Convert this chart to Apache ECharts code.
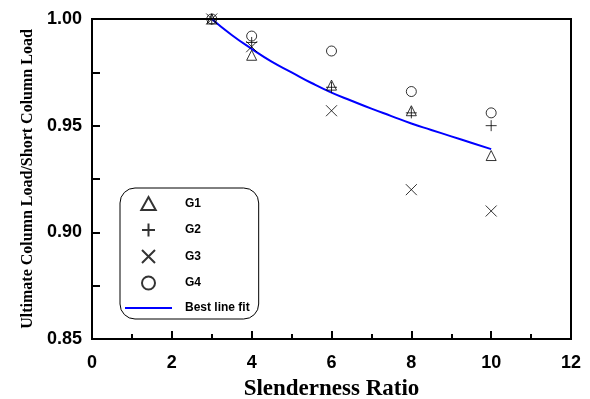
<!DOCTYPE html>
<html>
<head>
<meta charset="utf-8">
<script src="https://cdn.jsdelivr.net/npm/echarts@6/dist/echarts.min.js"></script>
<style>
  html, body { margin: 0; padding: 0; background: #fff; }
  #chart { width: 590px; height: 399px; }
</style>
</head>
<body>
<div id="chart"></div>
<script>
// Slenderness ratios tested
const ratios = [3, 4, 6, 8, 10];

// Normalised ultimate loads for each group
const g1 = [1.000, 0.983, 0.969, 0.957, 0.936];
const g2 = [1.000, 0.989, 0.968, 0.956, 0.950];
const g3 = [1.000, 0.987, 0.957, 0.920, 0.910];
const g4 = [1.000, 0.992, 0.985, 0.966, 0.956];

// Fitted trend line
const fitX = [3, 3.5, 4, 4.5, 5, 5.5, 6, 6.5, 7, 7.5, 8, 8.5, 9, 9.5, 10];
const fitY = [1.000, 0.9925, 0.986, 0.980, 0.975, 0.970, 0.9655, 0.9617, 0.958, 0.9545, 0.951, 0.948, 0.945, 0.942, 0.939];

// Axis ticks
const xTicks = [0, 2, 4, 6, 8, 10, 12];
const yTicks = [0.85, 0.90, 0.95, 1.00];

const pairs = (xs, ys) => xs.map((x, i) => [x, ys[i]]);

const TRI = 'path://M5,0L10,9L0,9Z';
const PLUS = 'path://M5,0L5,10M0,5L10,5';
const CROSS = 'path://M0,0L10,10M10,0L0,10';
const FITLINE = 'path://M0,0L47,0L47,2L0,2Z';

const markerStyle = { color: 'rgba(0,0,0,0)', borderColor: '#000', borderWidth: 1 };

const chart = echarts.init(document.getElementById('chart'), null, { renderer: 'canvas' });

chart.setOption({
  animation: false,
  backgroundColor: '#fff',
  grid: {
    left: 92, top: 19, width: 479, height: 320,
    outerBoundsMode: 'none',
    containLabel: false,
    show: true, borderColor: '#000', borderWidth: 2, backgroundColor: 'transparent'
  },
  legend: {
    orient: 'vertical',
    left: 120, top: 188,
    padding: [8, 9, 5, 5],
    itemWidth: 47, itemHeight: 13, itemGap: 11.5,
    borderColor: '#000', borderWidth: 1, borderRadius: 15,
    textStyle: { fontFamily: 'Liberation Sans, Arial', fontWeight: 'bold', fontSize: 12, color: '#000', padding: [0, 0, 0, 8] },
    data: [
      { name: 'G1', icon: TRI },
      { name: 'G2', icon: PLUS },
      { name: 'G3', icon: CROSS },
      { name: 'G4', icon: 'circle' },
      { name: 'Best line fit', icon: FITLINE, itemStyle: { color: '#0000ff', borderWidth: 0 } }
    ]
  },
  xAxis: {
    type: 'value',
    min: xTicks[0], max: xTicks[xTicks.length - 1], interval: 2,
    name: 'Slenderness Ratio',
    nameLocation: 'middle', nameGap: 39,
    nameTextStyle: { fontFamily: 'Liberation Serif, Times New Roman', fontWeight: 'bold', fontSize: 23, color: '#000' },
    axisLine: { lineStyle: { color: '#000', width: 2 } },
    axisTick: { inside: true, length: 8, lineStyle: { color: '#000', width: 2 } },
    minorTick: { show: true, splitNumber: 2, length: 5, lineStyle: { color: '#000', width: 2 } },
    splitLine: { show: false },
    axisLabel: { margin: 15, fontFamily: 'Liberation Sans, Arial', fontWeight: 'bold', fontSize: 18, color: '#000' }
  },
  yAxis: {
    type: 'value',
    min: yTicks[0], max: yTicks[yTicks.length - 1], interval: 0.05,
    name: 'Ultimate Column Load/Short Column Load',
    nameLocation: 'middle', nameGap: 55,
    nameTextStyle: { fontFamily: 'Liberation Serif, Times New Roman', fontWeight: 'bold', fontSize: 16, color: '#000' },
    axisLine: { lineStyle: { color: '#000', width: 2 } },
    axisTick: { inside: true, length: 8, lineStyle: { color: '#000', width: 2 } },
    minorTick: { show: true, splitNumber: 2, length: 8, lineStyle: { color: '#000', width: 2 } },
    splitLine: { show: false },
    axisLabel: {
      margin: 10, fontFamily: 'Liberation Sans, Arial', fontWeight: 'bold', fontSize: 18, color: '#000',
      formatter: v => v.toFixed(2)
    }
  },
  series: [
    { name: 'G1', type: 'scatter', symbol: TRI, symbolSize: 10, itemStyle: markerStyle, data: pairs(ratios, g1), z: 3 },
    { name: 'G2', type: 'scatter', symbol: PLUS, symbolSize: 11, itemStyle: markerStyle, data: pairs(ratios, g2), z: 3 },
    { name: 'G3', type: 'scatter', symbol: CROSS, symbolSize: 11, itemStyle: markerStyle, data: pairs(ratios, g3), z: 3 },
    { name: 'G4', type: 'scatter', symbol: 'circle', symbolSize: 10, itemStyle: markerStyle, data: pairs(ratios, g4), z: 3 },
    {
      name: 'Best line fit', type: 'line', symbol: 'none', smooth: true,
      lineStyle: { color: '#0000ff', width: 2 }, itemStyle: { color: '#0000ff' },
      data: pairs(fitX, fitY), z: 2
    }
  ]
});
</script>
</body>
</html>
